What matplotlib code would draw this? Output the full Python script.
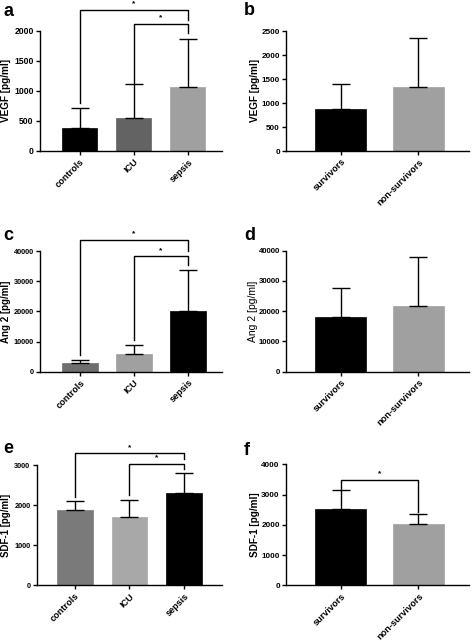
import numpy as np
import matplotlib
matplotlib.use("Agg")
import matplotlib.pyplot as plt

plt.rcParams['font.family'] = ['Liberation Sans', 'DejaVu Sans']
plt.rcParams['font.weight'] = 'bold'

W, H = 472, 641

# data
groups3 = ['controls', 'ICU', 'sepsis']
groups2 = ['survivors', 'non-survivors']

vegf3 = [390, 555, 1070]
vegf3_err = [335, 560, 800]
vegf2 = [866, 1330]
vegf2_err = [526, 1025]

ang3 = [2800, 5800, 20000]
ang3_err = [1200, 3100, 13800]
ang2 = [18100, 21800]
ang2_err = [9600, 16100]

sdf3 = [1870, 1715, 2290]
sdf3_err = [230, 420, 510]
sdf2 = [2530, 2020]
sdf2_err = [630, 340]

BLACK = '#000000'
LIGHT = '#a0a0a0'

fig = plt.figure(figsize=(W / 100, H / 100), dpi=100)


def px_axes(left, right, top, bottom):
    ax = fig.add_axes([left / W, 1 - bottom / H, (right - left) / W, (bottom - top) / H])
    ax._px = (top + bottom) / 2
    return ax


def style(ax, ymax, yticks, xlim, labels, ylabel, label_x, ytick_size=6,
          ylabel_size=7.2, ylabel_weight='bold'):
    ax.set_ylim(0, ymax)
    ax.set_xlim(*xlim)
    ax.set_yticks(yticks)
    ax.set_xticks(range(len(labels)))
    ax.set_xticklabels(labels, rotation=45, ha='right', rotation_mode='anchor',
                       fontsize=6.6, fontweight='bold')
    for t in ax.get_yticklabels():
        t.set_fontsize(ytick_size)
        t.set_fontweight('bold')
    ax.spines['top'].set_visible(False)
    ax.spines['right'].set_visible(False)
    for s in ['left', 'bottom']:
        ax.spines[s].set_linewidth(1.0)
    ax.tick_params(direction='out', length=3, width=1.0, pad=1.5)
    ax.set_ylabel(ylabel, fontsize=ylabel_size, fontweight=ylabel_weight, va='center')
    ax.yaxis.set_label_coords(label_x / W, 1 - ax._px / H, transform=fig.transFigure)


def bars(ax, vals, errs, colors, width=0.65):
    x = np.arange(len(vals))
    ax.bar(x, vals, width=width, color=colors, edgecolor=colors, linewidth=0.5, zorder=2)
    ax.errorbar(x, vals, yerr=[np.zeros(len(vals)), errs], fmt='none',
                ecolor='black', elinewidth=1.0, capsize=6.5, capthick=1.0, zorder=3)


def bracket(ax, x1, x2, y, y1, y2, star_dy):
    ax.plot([x1, x1, x2, x2], [y1, y, y, y2], color='black', lw=1.0, clip_on=False, zorder=4)
    ax.text((x1 + x2) / 2, y + star_dy, '*', ha='center', va='bottom', fontsize=6,
            fontweight='bold', clip_on=False)


# a
ax = px_axes(40, 222, 31, 151)
bars(ax, vegf3, vegf3_err, [BLACK, '#636363', LIGHT])
style(ax, 2000, [0, 500, 1000, 1500, 2000], (-0.73, 2.63), groups3, 'VEGF [pg/ml]',
      6.5, ytick_size=6.2)
bracket(ax, 0, 2, 2350, 800, 2180, 40)
bracket(ax, 1, 2, 2117, 1130, 1960, 40)

# b
ax = px_axes(286, 469, 31, 151)
bars(ax, vegf2, vegf2_err, [BLACK, LIGHT])
style(ax, 2500, [0, 500, 1000, 1500, 2000, 2500], (-0.70, 1.65), groups2, 'VEGF [pg/ml]',
      255, ytick_size=5.9)

# c
ax = px_axes(40, 222, 251, 371.7)
bars(ax, ang3, ang3_err, ['#6e6e6e', LIGHT, BLACK])
style(ax, 40000, [0, 10000, 20000, 30000, 40000], (-0.74, 2.63), groups3, 'Ang 2 [pg/ml]',
      6.5, ytick_size=5.3, ylabel_size=7)
bracket(ax, 0, 2, 43700, 5500, 40000, 800)
bracket(ax, 1, 2, 38200, 10500, 35300, 800)

# d
ax = px_axes(286, 469, 250.7, 371.7)
bars(ax, ang2, ang2_err, [BLACK, LIGHT])
style(ax, 40000, [0, 10000, 20000, 30000, 40000], (-0.70, 1.65), groups2, 'Ang 2 [pg/ml]',
      252.5, ytick_size=5.6, ylabel_size=7.5, ylabel_weight='normal')

# e
ax = px_axes(36.7, 222, 465, 585.3)
bars(ax, sdf3, sdf3_err, ['#7a7a7a', '#a8a8a8', BLACK])
style(ax, 3000, [0, 1000, 2000, 3000], (-0.70, 2.70), groups3, 'SDF-1 [pg/ml]',
      6.5, ytick_size=5.3, ylabel_size=7)
bracket(ax, 0, 2, 3290, 2205, 3140, 60)
bracket(ax, 1, 2, 3025, 2250, 2890, 60)

# f
ax = px_axes(286, 469, 464.3, 585.3)
bars(ax, sdf2, sdf2_err, [BLACK, LIGHT])
style(ax, 4000, [0, 1000, 2000, 3000, 4000], (-0.70, 1.65), groups2, 'SDF-1 [pg/ml]',
      255, ytick_size=5.9)
bracket(ax, 0, 1, 3480, 3150, 2430, 80)

# panel letters
for letter, x, y in [('a', 4, 16), ('b', 244, 15), ('c', 3, 240),
                     ('d', 244, 240), ('e', 3, 453), ('f', 244, 455)]:
    fig.text(x / W, 1 - y / H, letter, fontsize=13, fontweight='bold', va='baseline', ha='left')

fig.savefig('out.png', dpi=100)
